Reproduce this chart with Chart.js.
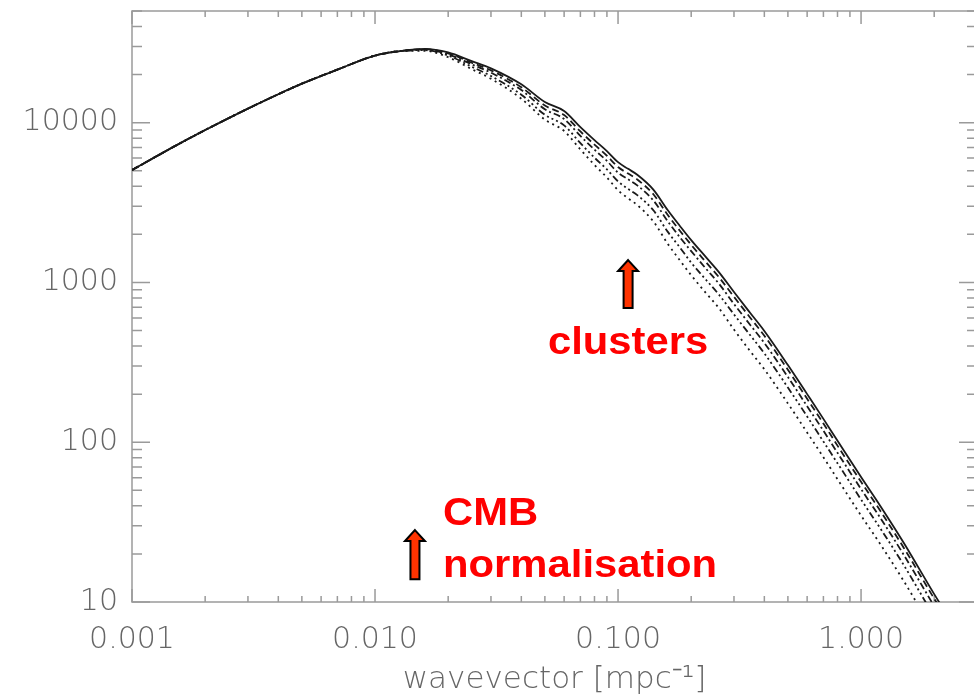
<!DOCTYPE html>
<html>
<head>
<meta charset="utf-8">
<script src="https://cdn.jsdelivr.net/npm/chart.js@4/dist/chart.umd.min.js"></script>
<style>
  html, body { margin: 0; padding: 0; overflow: hidden; background: #fff; }
  canvas { display: block; }
</style>
</head>
<body>
<canvas id="spectrum" width="980" height="699"></canvas>
<script>
// Wavevector grid [mpc^-1]
const wavevector = [0.001, 0.0015, 0.002, 0.003, 0.004, 0.005, 0.007, 0.01, 0.013, 0.016,
  0.02, 0.025, 0.03, 0.04, 0.05, 0.06, 0.07, 0.08, 0.09, 0.1,
  0.11, 0.12, 0.14, 0.16, 0.18, 0.2, 0.23, 0.26, 0.3, 0.35,
  0.4, 0.5, 0.6, 0.7, 0.8, 1.0, 1.2, 1.5, 2.0, 2.5, 3.0];

// Power spectra for five models, all sharing the CMB normalisation at large scales
const modelSolid = [5050, 7130, 8990, 12250, 15070, 17540, 21480, 26300, 28180, 28970,
  27540, 24270, 21880, 17380, 13460, 11830, 9380, 7780, 6640, 5660,
  5140, 4720, 3800, 2840, 2250, 1840, 1440, 1160, 871, 644,
  497, 304, 200, 140, 102, 60.5, 39.9, 23.4, 11.2, 6.5, 4.15];
const modelDashed = [5050, 7130, 8990, 12250, 15070, 17540, 21480, 26300, 28180, 28840,
  27160, 23720, 21240, 16670, 12800, 11170, 8810, 7290, 6210, 5280,
  4800, 4410, 3550, 2650, 2100, 1720, 1340, 1080, 813, 601,
  464, 284, 187, 131, 95.2, 56.5, 37.2, 21.8, 10.5, 6.07, 3.87];
const modelDashDot = [5050, 7130, 8990, 12250, 15070, 17540, 21480, 26300, 28180, 28640,
  26790, 23180, 20560, 16000, 12140, 10540, 8260, 6780, 5760, 4870,
  4420, 4050, 3250, 2420, 1910, 1570, 1220, 983, 733, 542,
  418, 256, 168, 118, 85.8, 50.9, 33.6, 19.7, 9.42, 5.47, 3.49];
const modelDashDots = [5050, 7130, 8990, 12250, 15070, 17540, 21480, 26300, 28180, 28440,
  26300, 22390, 19590, 14960, 11200, 9620, 7450, 6040, 5100, 4290,
  3850, 3520, 2820, 2080, 1650, 1330, 1040, 840, 631, 467,
  360, 220, 145, 101, 73.9, 43.8, 28.9, 17.0, 8.11, 4.71, 3.01];
const modelLongDash = [5050, 7130, 8990, 12250, 15070, 17540, 21480, 26300, 28180, 28180,
  25700, 21630, 18840, 14130, 10450, 8870, 6800, 5440, 4540, 3780,
  3360, 3050, 2400, 1750, 1370, 1110, 858, 691, 507, 371,
  286, 175, 115, 80.6, 58.7, 34.8, 23.0, 13.5, 6.44, 3.74, 2.39];

// Labelled decades on each axis
const xTickValues = [0.001, 0.01, 0.1, 1];
const xTickLabels = ['0.001', '0.010', '0.100', '1.000'];
const yTickValues = [10, 100, 1000, 10000];
const yTickLabels = ['10', '100', '1000', '10000'];

// Annotation arrows (wavevector, arrow tip / tail in power units) and their captions
const noteWavevector = [0.110, 0.0146];
const noteArrowTip = [1380, 28.2];
const noteArrowTail = [692, 13.9];
const noteCaptions = [
  [{ text: 'clusters', k: 0.110, p: 356, align: 'center' }],
  [{ text: 'CMB', k: 0.01905, p: 30.3, align: 'left' },
   { text: 'normalisation', k: 0.01905, p: 14.3, align: 'left' }]
];

const axisGrey = '#9a9a9a';
const labelGrey = '#666666';
const tickFont = { family: '"DejaVu Sans", sans-serif', size: 30, weight: 200 };

const labelFor = (values, labels) => v => {
  const i = values.findIndex(t => Math.abs(t - v) / t < 1e-6);
  return i >= 0 ? labels[i] : null;
};

// Tick values 1..9 x 10^n spanning a log scale's range, flagged major on each decade
function logTicks(scale) {
  const out = [];
  const lo = Math.floor(Math.log10(scale.min));
  const hi = Math.ceil(Math.log10(scale.max));
  for (let e = lo; e <= hi; e++) {
    for (let m = 1; m <= 9; m++) {
      const v = m * Math.pow(10, e);
      if (v >= scale.min * 0.9999 && v <= scale.max * 1.0001) out.push({ value: v, major: m === 1 });
    }
  }
  return out;
}

// Box frame with inward-pointing IDL style ticks on all four sides
const framePlugin = {
  id: 'frame',
  beforeDatasetsDraw(chart) {
    const { ctx, chartArea: a, scales: { x, y } } = chart;
    ctx.save();
    ctx.strokeStyle = axisGrey;
    ctx.lineWidth = 1.5;
    ctx.strokeRect(a.left, a.top, a.right - a.left, a.bottom - a.top);
    ctx.beginPath();
    logTicks(x).forEach(t => {
      const px = x.getPixelForValue(t.value);
      const len = t.major ? 13 : 6;
      ctx.moveTo(px, a.bottom); ctx.lineTo(px, a.bottom - len);
      ctx.moveTo(px, a.top); ctx.lineTo(px, a.top + len);
    });
    logTicks(y).forEach(t => {
      const py = y.getPixelForValue(t.value);
      const len = t.major ? 18 : 10;
      ctx.moveTo(a.left, py); ctx.lineTo(a.left + len, py);
      ctx.moveTo(a.right, py); ctx.lineTo(a.right - len, py);
    });
    ctx.stroke();
    ctx.restore();
  }
};

// Red block arrows with bold captions
const notesPlugin = {
  id: 'notes',
  afterDatasetsDraw(chart) {
    const { ctx, scales: { x, y } } = chart;
    ctx.save();
    noteWavevector.forEach((k, i) => {
      const cx = x.getPixelForValue(k);
      const tip = y.getPixelForValue(noteArrowTip[i]);
      const tail = y.getPixelForValue(noteArrowTail[i]);
      const hw = 10, hl = 11, sw = 4.5;
      ctx.beginPath();
      ctx.moveTo(cx, tip);
      ctx.lineTo(cx + hw, tip + hl);
      ctx.lineTo(cx + sw, tip + hl);
      ctx.lineTo(cx + sw, tail);
      ctx.lineTo(cx - sw, tail);
      ctx.lineTo(cx - sw, tip + hl);
      ctx.lineTo(cx - hw, tip + hl);
      ctx.closePath();
      ctx.fillStyle = '#ff3300';
      ctx.fill();
      ctx.lineWidth = 2;
      ctx.strokeStyle = '#000';
      ctx.stroke();

      noteCaptions[i].forEach(c => {
        ctx.save();
        ctx.translate(x.getPixelForValue(c.k), y.getPixelForValue(c.p));
        ctx.scale(1.1, 1);
        ctx.font = 'bold 38px "Liberation Sans", Arial, sans-serif';
        ctx.fillStyle = '#ff0000';
        ctx.textAlign = c.align;
        ctx.textBaseline = 'alphabetic';
        ctx.fillText(c.text, 0, 0);
        ctx.restore();
      });
    });
    ctx.restore();
  }
};

const lineStyle = (data, dash) => ({
  data: wavevector.map((k, i) => ({ x: k, y: data[i] })),
  borderColor: '#1a1a1a',
  borderWidth: 1.8,
  borderDash: dash,
  pointRadius: 0,
  fill: false,
  cubicInterpolationMode: 'monotone'
});

new Chart(document.getElementById('spectrum'), {
  type: 'line',
  data: {
    datasets: [
      lineStyle(modelSolid, []),
      lineStyle(modelDashed, [7, 4]),
      lineStyle(modelDashDot, [7, 3, 2, 3]),
      lineStyle(modelDashDots, [7, 3, 2, 3, 2, 3, 2, 3]),
      lineStyle(modelLongDash, [2, 4])
    ]
  },
  options: {
    responsive: false,
    animation: false,
    events: [],
    layout: { padding: { top: 11, right: 3, left: 0, bottom: 0 } },
    plugins: { legend: { display: false }, tooltip: { enabled: false } },
    scales: {
      x: {
        type: 'logarithmic',
        position: 'bottom',
        min: 0.001,
        max: 3,
        grid: { display: false, drawTicks: false },
        border: { display: false },
        ticks: {
          autoSkip: false, maxRotation: 0, padding: 20,
          color: labelGrey, font: tickFont,
          callback: labelFor(xTickValues, xTickLabels)
        },
        title: {
          display: true,
          text: 'wavevector [mpc⁻¹]',
          color: labelGrey,
          font: { family: '"DejaVu Sans", sans-serif', size: 31, weight: 200 },
          padding: { top: 0, bottom: 0 }
        },
        afterFit(scale) {
          scale.height = 97;
          scale.paddingLeft = 0;
          scale.paddingRight = 0;
        }
      },
      y: {
        type: 'logarithmic',
        position: 'left',
        min: 10,
        max: 50000,
        grid: { display: false, drawTicks: false },
        border: { display: false },
        ticks: {
          autoSkip: false, padding: 14,
          color: labelGrey, font: tickFont,
          callback: labelFor(yTickValues, yTickLabels)
        },
        afterFit(scale) {
          scale.width = 132;
          scale.paddingTop = 0;
          scale.paddingBottom = 0;
        }
      }
    }
  },
  plugins: [framePlugin, notesPlugin]
});
</script>
</body>
</html>
